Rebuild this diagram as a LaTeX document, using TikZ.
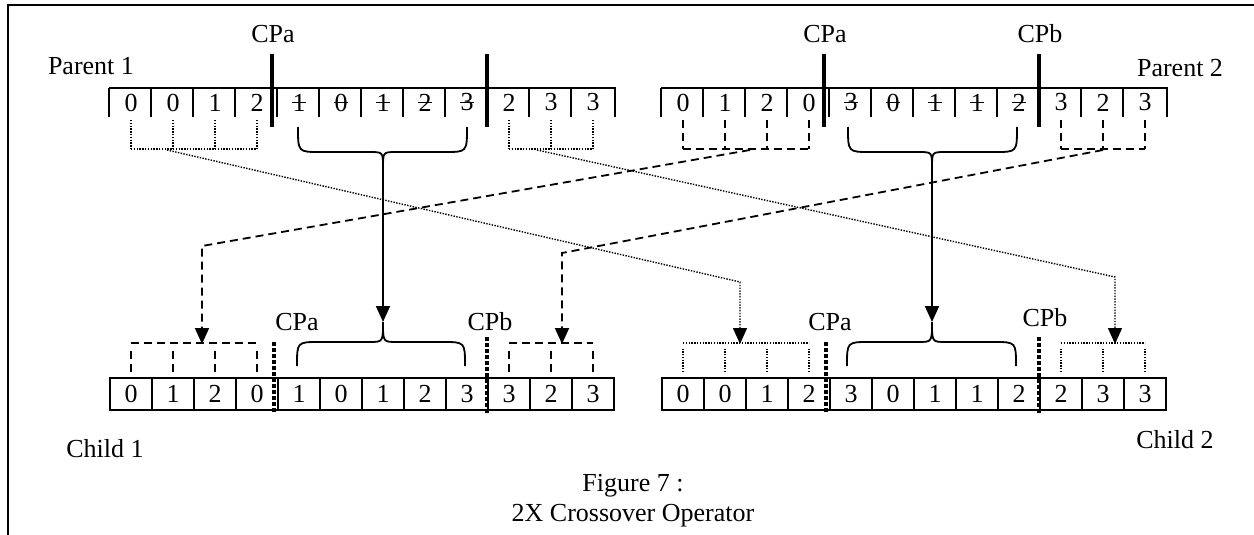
\documentclass[tikz,border=0pt]{standalone}
\usepackage{fontspec}
\setmainfont{Liberation Serif}
\usetikzlibrary{arrows.meta,positioning}

\tikzset{
  gene/.style={minimum width=42pt,minimum height=27pt,inner sep=0pt},
  cell/.style={gene,draw,line width=1.8pt,minimum height=32pt},
  dotline/.style={line width=1.4pt,dash pattern=on 1.4pt off 1.4pt},
  dashline/.style={line width=1.8pt,dash pattern=on 8pt off 5pt},
  cpline/.style={line width=4.5pt},
  cpdots/.style={line width=3.5pt,dash pattern=on 3.5pt off 2.5pt},
  brace/.style={line width=1.8pt}
}

\begin{document}
\begin{tikzpicture}[x=1pt,y=-1pt,line width=1.8pt,
    >={Triangle[length=16pt,width=14pt]},font=\fontsize{26}{30}\selectfont]
  \useasboundingbox (0,0) rectangle (1254,535);
  % frame
  \draw[line width=2pt] (8,535) -- (8,5) -- (1254,5);

  % parents
  \foreach \g [count=\i] in {0,0,1,2,1,0,1,2,3,2,3,3}
     \node[gene] (p1g\i) at ({89+42*\i},102.5) {\g};
  \foreach \g [count=\i] in {0,1,2,0,3,0,1,1,2,3,2,3}
     \node[gene] (p2g\i) at ({641+42*\i},102.5) {\g};
  \foreach \row in {p1,p2}{
     \draw (\row g1.north west) -- (\row g12.north east) -- (\row g12.south east);
     \foreach \i in {1,...,12} \draw (\row g\i.north west) -- (\row g\i.south west);
     % crossed out genes
     \foreach \i in {5,...,9}
        \draw[line width=1pt] ([xshift=-7pt]\row g\i.center) -- ([xshift=7pt]\row g\i.center);
     \draw[cpline] ([shift={(-5pt,34pt)}]\row g5.north west) -- ([shift={(-5pt,-10pt)}]\row g5.south west);
     \draw[cpline] ([yshift=34pt]\row g10.north west) -- ([yshift=-10pt]\row g10.south west);
  }
  \node (p1name) at (91,66) {Parent 1};
  \node (p2name) at (1180,68) {Parent 2};
  \node (p1cpa) at (273,34) {CPa};
  \node (p2cpa) at (825,34) {CPa};
  \node (p2cpb) at (1040,34) {CPb};

  % children
  \foreach \g [count=\i] in {0,1,2,0,1,0,1,2,3,3,2,3}
     \node[cell] (c1g\i) at ({89+42*\i},394) {\g};
  \foreach \g [count=\i] in {0,0,1,2,3,0,1,1,2,2,3,3}
     \node[cell] (c2g\i) at ({641+42*\i},394) {\g};
  \foreach \row in {c1,c2}{
     \draw[cpdots] ([shift={(-3pt,35pt)}]\row g5.north west) -- ([shift={(-3pt,-2pt)}]\row g5.south west);
     \draw[cpdots] ([yshift=40pt]\row g10.north west) -- ([yshift=-2pt]\row g10.south west);
  }
  \node (c1name) at (105,449) {Child 1};
  \node (c2name) at (1175,440) {Child 2};
  \node (c1cpa) at (297,322) {CPa};
  \node (c1cpb) at (490,322) {CPb};
  \node (c2cpa) at (830,322) {CPa};
  \node (c2cpb) at (1045,318) {CPb};

  % gene groups under the parents and over the children
  \foreach \row/\a/\b/\s in {p1/1/4/dotline,p1/10/12/dotline,p2/1/4/dashline,p2/10/12/dashline}{
     \foreach \i in {\a,...,\b}
        \draw[\s] ([yshift=-3pt]\row g\i.south) -- ([yshift=-32pt]\row g\i.south);
     \draw[\s] ([yshift=-32pt]\row g\a.south) -- ([yshift=-32pt]\row g\b.south);
  }
  \foreach \row/\a/\b/\s in {c1/1/4/dashline,c1/10/12/dashline,c2/1/4/dotline,c2/10/12/dotline}{
     \foreach \i in {\a,...,\b}
        \draw[\s] ([yshift=5pt]\row g\i.north) -- ([yshift=28pt]\row g\i.north);
     \draw[\s] ([yshift=34pt]\row g\a.north) -- ([yshift=34pt]\row g\b.north);
  }

  % braces round the middle segment
  \foreach \xl/\xm/\xr [count=\k] in {298/383/467,848/932/1017}{
     \draw[brace] (\xl,127) .. controls (\xl,152) .. (\xl+22,152) -- (\xm-14,152)
        .. controls (\xm,152) .. (\xm,167) coordinate (ptip\k)
        .. controls (\xm,152) .. (\xm+14,152) -- (\xr-22,152) .. controls (\xr,152) .. (\xr,127);
  }
  \foreach \xl/\xm/\xr [count=\k] in {297/383/465,847/932/1016}{
     \draw[brace] (\xl,366) .. controls (\xl,342) .. (\xl+22,342) -- (\xm-14,342)
        .. controls (\xm,342) .. (\xm,322) coordinate (ctip\k)
        .. controls (\xm,342) .. (\xm+14,342) -- (\xr-22,342) .. controls (\xr,342) .. (\xr,366);
  }
  \draw[->] (ptip1) -- (ctip1);
  \draw[->] (ptip2) -- (ctip2);

  % outer genes are swapped
  \coordinate (p1lo) at (167,150);
  \coordinate (p1ro) at (537,150);
  \coordinate (p2lo) at (750,150);
  \coordinate (p2ro) at (1103,150);
  \coordinate (c1li) at (202,344);
  \coordinate (c1ri) at (562,344);
  \coordinate (c2li) at (740,344);
  \coordinate (c2ri) at (1115,344);
  \draw[dotline,->] (p1lo) -- (c2li |- 0,282) -- (c2li);
  \draw[dotline,->] (p1ro) -- (c2ri |- 0,277) -- (c2ri);
  \draw[dashline,->] (p2lo) -- (c1li |- 0,246) -- (c1li);
  \draw[dashline,->] (p2ro) -- (c1ri |- 0,253) -- (c1ri);

  \node[align=center] (caption) at (633,501) {Figure 7 :\\2X Crossover Operator};
\end{tikzpicture}
\end{document}
